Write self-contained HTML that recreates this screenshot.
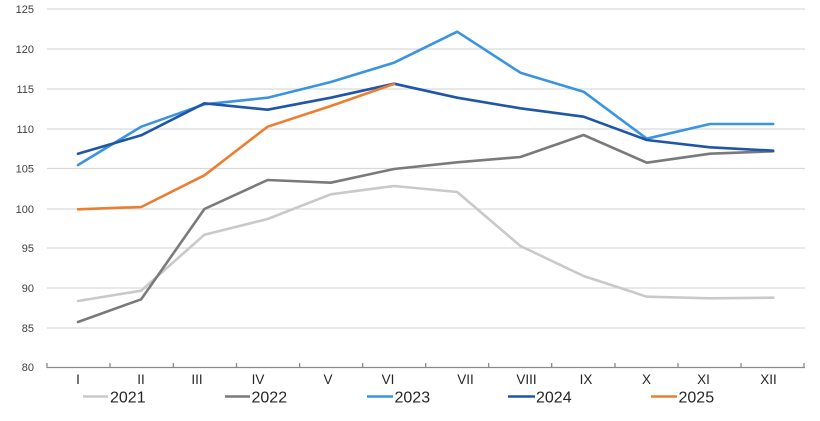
<!DOCTYPE html>
<html><head><meta charset="utf-8"><style>
html,body{margin:0;padding:0;background:#fff;}
svg{display:block;}
text{font-family:"Liberation Sans",Arial,sans-serif;}
</style></head><body>
<svg width="820" height="421" viewBox="0 0 820 421" xmlns="http://www.w3.org/2000/svg">
<g stroke="#d9d9d9" stroke-width="1.3">
<line x1="47" y1="9" x2="805" y2="9"/>
<line x1="47" y1="49" x2="805" y2="49"/>
<line x1="47" y1="89" x2="805" y2="89"/>
<line x1="47" y1="129" x2="805" y2="129"/>
<line x1="47" y1="168.5" x2="805" y2="168.5"/>
<line x1="47" y1="209" x2="805" y2="209"/>
<line x1="47" y1="248" x2="805" y2="248"/>
<line x1="47" y1="288" x2="805" y2="288"/>
<line x1="47" y1="328" x2="805" y2="328"/>
</g>
<g stroke="#8a8a8a" stroke-width="1.3">
<line x1="47" y1="367.5" x2="805" y2="367.5"/>
<line x1="47" y1="363" x2="47" y2="368"/>
<line x1="110" y1="363" x2="110" y2="368"/>
<line x1="173.3" y1="363" x2="173.3" y2="368"/>
<line x1="236.5" y1="363" x2="236.5" y2="368"/>
<line x1="299.6" y1="363" x2="299.6" y2="368"/>
<line x1="362.7" y1="363" x2="362.7" y2="368"/>
<line x1="425.7" y1="363" x2="425.7" y2="368"/>
<line x1="488.7" y1="363" x2="488.7" y2="368"/>
<line x1="551.7" y1="363" x2="551.7" y2="368"/>
<line x1="615" y1="363" x2="615" y2="368"/>
<line x1="678" y1="363" x2="678" y2="368"/>
<line x1="741" y1="363" x2="741" y2="368"/>
<line x1="804" y1="363" x2="804" y2="368"/>
</g>
<g font-size="11" fill="#404040" text-anchor="end">
<text x="34" y="13">125</text>
<text x="34" y="53">120</text>
<text x="34" y="93">115</text>
<text x="34" y="133">110</text>
<text x="34" y="172.5">105</text>
<text x="34" y="213">100</text>
<text x="34" y="252">95</text>
<text x="34" y="292">90</text>
<text x="34" y="332">85</text>
<text x="34" y="371">80</text>
</g>
<g font-size="13.5" fill="#262626" text-anchor="middle">
<text x="78" y="384">I</text>
<text x="141" y="384">II</text>
<text x="197" y="384">III</text>
<text x="258" y="384">IV</text>
<text x="328" y="384">V</text>
<text x="388" y="384">VI</text>
<text x="465.5" y="384">VII</text>
<text x="526.5" y="384">VIII</text>
<text x="586" y="384">IX</text>
<text x="646.5" y="384">X</text>
<text x="703.5" y="384">XI</text>
<text x="768.5" y="384">XII</text>
</g>
<g fill="none" stroke-width="2.6" stroke-linejoin="round" stroke-linecap="round">
<polyline stroke="#c9c9c9" points="78,301 141.2,290.7 204.4,234.7 267.6,219 330.8,194.3 394,186 457.2,192 520.4,246 583.6,276 646.8,296.7 710,298.3 773.2,297.7"/>
<polyline stroke="#7a7a7a" points="78,322 141.2,299.3 204.4,209 267.6,180 330.8,182.7 394,169 457.2,162.3 520.4,157 583.6,135 646.8,162.7 710,153.7 773.2,151.3"/>
<polyline stroke="#3a94e0" points="78,165 141.2,126.7 204.4,104.3 267.6,97.7 330.8,82 394,62.7 457.2,31.7 520.4,72.7 583.6,91.7 646.8,138.7 710,124 773.2,124"/>
<polyline stroke="#1f56a8" points="78,153.7 141.2,135.3 204.4,103.3 267.6,109.7 330.8,97.7 394,83.7 457.2,97.7 520.4,108.3 583.6,116.7 646.8,140 710,147.3 773.2,150.7"/>
<polyline stroke="#ed7d31" points="78,209.3 141.2,207 204.4,175.3 267.6,126.7 330.8,106 394,84"/>
</g>
<g stroke-width="2.6">
<line x1="83" y1="396.5" x2="108" y2="396.5" stroke="#c9c9c9"/>
<line x1="225" y1="396.5" x2="250" y2="396.5" stroke="#7a7a7a"/>
<line x1="367" y1="396.5" x2="393" y2="396.5" stroke="#3a94e0"/>
<line x1="508" y1="396.5" x2="535" y2="396.5" stroke="#1f56a8"/>
<line x1="651" y1="396.5" x2="677" y2="396.5" stroke="#ed7d31"/>
</g>
<g font-size="16" fill="#262626">
<text x="110" y="402.5">2021</text>
<text x="251.5" y="402.5">2022</text>
<text x="394.5" y="402.5">2023</text>
<text x="536" y="402.5">2024</text>
<text x="678.5" y="402.5">2025</text>
</g>
</svg>
</body></html>
